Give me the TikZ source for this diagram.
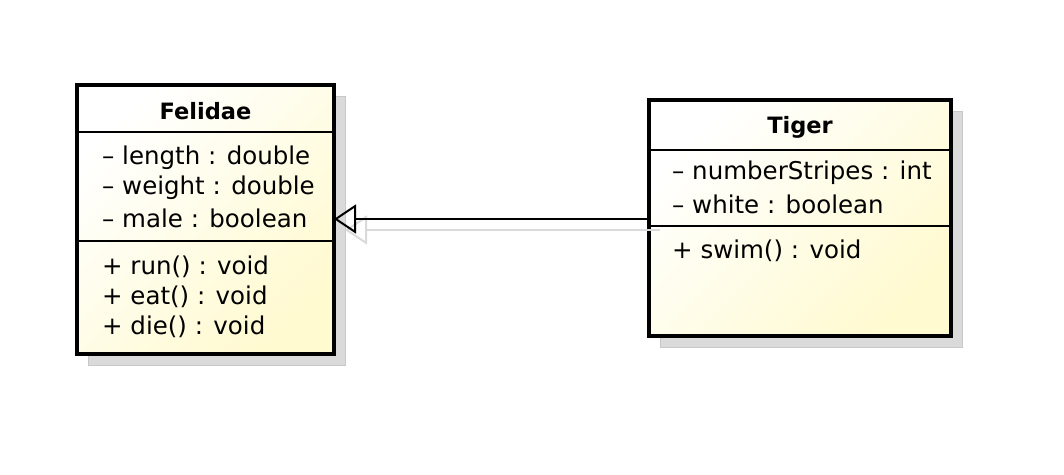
\documentclass[tikz,border=0pt]{standalone}
\usepackage{fontspec}
\setmainfont{DejaVu Sans}
\usetikzlibrary{arrows.meta,calc}
\definecolor{classfill}{HTML}{FFFAD0}
\definecolor{shadowgray}{HTML}{DADADA}
\begin{document}
\begin{tikzpicture}[x=1pt,y=-1pt,
  classbox/.style={draw=black,line width=4pt,anchor=north west,inner sep=0pt,outer sep=0pt,
    left color=white,right color=classfill,shading angle=45},
  boxshadow/.style={fill=shadowgray,draw=shadowgray!80!gray,line width=1pt,anchor=north west,inner sep=0pt},
  sep/.style={draw=black,line width=1.8pt},
  title/.style={font=\fontsize{22.5}{26}\selectfont\bfseries,anchor=center},
  member/.style={font=\fontsize{24.5}{28}\selectfont,anchor=west,inner sep=0pt},
  generalization/.style={line width=2pt,-{Triangle[open,length=22pt,width=29pt,line width=2pt]}}]
\useasboundingbox (0,0) rectangle (1064,474);
\fill[white] (0,0) rectangle (1064,474);

% drop shadows
\node[boxshadow,minimum width=257,minimum height=269] (felshadow) at (88,96) {};
\node[boxshadow,minimum width=302,minimum height=236] (tigshadow) at (660,111) {};

% Felidae class
\node[classbox,minimum width=257,minimum height=269] (felidae) at (77,85) {};
\draw[sep] ($(felidae.north west)+(0,47)$) -- ($(felidae.north east)+(0,47)$);
\draw[sep] ($(felidae.north west)+(0,156)$) -- ($(felidae.north east)+(0,156)$);
\node[title] (feltitle) at ($(felidae.north)+(0,26)$) {Felidae};
\node[member] (fa1) at ($(felidae.north west)+(25,73)$) {– length : double};
\node[member] (fa2) at ($(felidae.north west)+(25,103)$) {– weight : double};
\node[member] (fa3) at ($(felidae.north west)+(25,133)$) {– male : boolean};
\node[member] (fm1) at ($(felidae.north west)+(25,182)$) {+ run() : void};
\node[member] (fm2) at ($(felidae.north west)+(25,212)$) {+ eat() : void};
\node[member] (fm3) at ($(felidae.north west)+(25,242)$) {+ die() : void};

% Tiger class
\node[classbox,minimum width=302,minimum height=236] (tiger) at (649,100) {};
\draw[sep] ($(tiger.north west)+(0,50)$) -- ($(tiger.north east)+(0,50)$);
\draw[sep] ($(tiger.north west)+(0,126)$) -- ($(tiger.north east)+(0,126)$);
\node[title] (tigtitle) at ($(tiger.north)+(0,27)$) {Tiger};
\node[member] (ta1) at ($(tiger.north west)+(23,73)$) {– numberStripes : int};
\node[member] (ta2) at ($(tiger.north west)+(23,104)$) {– white : boolean};
\node[member] (tm1) at ($(tiger.north west)+(23,151)$) {+ swim() : void};

% generalization Tiger -> Felidae
\coordinate (genstart) at ($(tiger.north west)+(0,119)$);
\coordinate (genend) at (felidae.east |- genstart);
\draw[generalization,draw=shadowgray] ($(genstart)+(11,11)$) -- ($(genend)+(11,11)$);
\draw[generalization] (genstart) -- (genend);
\end{tikzpicture}
\end{document}
